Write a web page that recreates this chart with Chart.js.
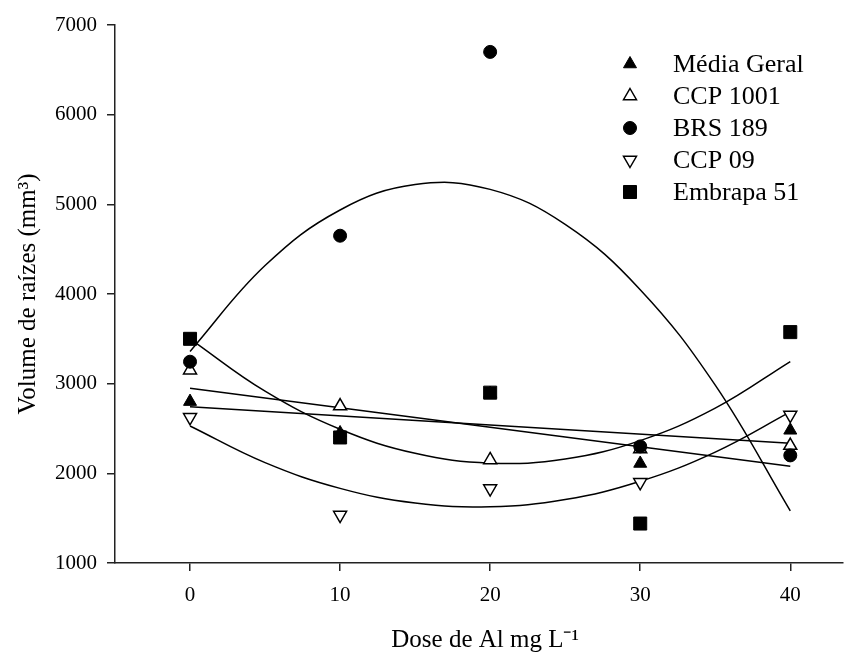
<!DOCTYPE html>
<html>
<head>
<meta charset="utf-8">
<script src="https://cdn.jsdelivr.net/npm/chart.js@4.4.0/dist/chart.umd.min.js"></script>
<style>
  body { margin: 0; background: #fff; }
  canvas { display: block; }
</style>
</head>
<body>
<canvas id="myChart" width="853" height="653"></canvas>
<script>
// Dose de Al (mg L-1)
const doses = [0, 10, 20, 30, 40];

// observed root volume (mm3) per cultivar
const mediaGeral = [2800, 2450, 2890, 2110, 2480];
const ccp1001 = [3150, 2750, 2150, 2270, 2310];
const brs189 = [3245, 4650, 6700, 2300, 2200];
const ccp09 = [2625, 1535, 1830, 1900, 2650];
const embrapa51 = [3500, 2400, 2900, 1440, 3575];

// fitted curves, every 5 mg L-1
const curveX = [0, 5, 10, 15, 20, 25, 30, 35, 40];
const brs189Curve = [3360, 4317, 4937, 5220, 5167, 4776, 4048, 2983, 1581];
const embrapa51Curve = [3500, 2916, 2491, 2223, 2113, 2160, 2365, 2727, 3247];
const ccp09Curve = [2528, 2119, 1832, 1668, 1627, 1707, 1911, 2237, 2685];

// straight fits (ends at 0 and 40)
const lineX = [0, 40];
const ccp1001Line = [2950, 2080];
const mediaGeralLine = [2743, 2335];

// tick labels
const xTicks = [0, 10, 20, 30, 40];
const yTicks = [1000, 2000, 3000, 4000, 5000, 6000, 7000];

function toPoints(xs, ys) {
  return xs.map((x, i) => ({ x: x, y: ys[i] }));
}

function markerSet(label, values, style, rotation, filled, radius, order) {
  return {
    label: label,
    data: toPoints(doses, values),
    pointStyle: style,
    rotation: rotation,
    pointRadius: radius,
    backgroundColor: filled ? "#000" : "#fff",
    borderColor: "#000",
    borderWidth: filled ? 1 : 1.5,
    showLine: false,
    order: order,
  };
}

function fitLine(xs, ys) {
  return {
    label: "fit",
    data: toPoints(xs, ys),
    showLine: true,
    pointRadius: 0,
    borderColor: "#000",
    borderWidth: 1.5,
    tension: 0.4,
    fill: false,
    order: 3,
  };
}

// legend rows (drawn by the plugin below)
const legendItems = [
  { text: "Média Geral", style: "triangle", rotation: 0, filled: true },
  { text: "CCP 1001", style: "triangle", rotation: 0, filled: false },
  { text: "BRS 189", style: "circle", rotation: 0, filled: true },
  { text: "CCP 09", style: "triangle", rotation: 180, filled: false },
  { text: "Embrapa 51", style: "rect", rotation: 0, filled: true },
];

function drawMarker(ctx, item, x, y) {
  ctx.save();
  ctx.fillStyle = item.filled ? "#000" : "#fff";
  ctx.strokeStyle = "#000";
  ctx.lineWidth = item.filled ? 1 : 1.5;
  ctx.beginPath();
  if (item.style === "circle") {
    ctx.arc(x, y, 6.5, 0, Math.PI * 2);
  } else if (item.style === "rect") {
    ctx.rect(x - 6.5, y - 6.5, 13, 13);
  } else {
    const r = 7.5;
    const s = item.rotation === 180 ? -1 : 1;
    ctx.moveTo(x, y - s * r);
    ctx.lineTo(x + 0.866 * r, y + s * 0.5 * r);
    ctx.lineTo(x - 0.866 * r, y + s * 0.5 * r);
    ctx.closePath();
  }
  ctx.fill();
  ctx.stroke();
  ctx.restore();
}

const legendPlugin = {
  id: "sideLegend",
  afterDraw(chart) {
    const ctx = chart.ctx;
    ctx.save();
    ctx.font = "26px 'Liberation Serif'";
    ctx.textBaseline = "middle";
    legendItems.forEach((item, i) => {
      const y = 64 + i * 32;
      drawMarker(ctx, item, 630, y);
      ctx.fillStyle = "#000";
      ctx.fillText(item.text, 673, y + 1);
    });
    ctx.restore();
  },
};

const ctx = document.getElementById("myChart");

const myChart = new Chart(ctx, {
  type: "scatter",
  data: {
    datasets: [
      markerSet("Média Geral", mediaGeral, "triangle", 0, true, 7.5, 2),
      markerSet("CCP 1001", ccp1001, "triangle", 0, false, 7.5, 2),
      markerSet("BRS 189", brs189, "circle", 0, true, 6.5, 1),
      markerSet("CCP 09", ccp09, "triangle", 180, false, 7.5, 2),
      markerSet("Embrapa 51", embrapa51, "rect", 0, true, 9.2, 2),
      fitLine(curveX, brs189Curve),
      fitLine(curveX, embrapa51Curve),
      fitLine(curveX, ccp09Curve),
      fitLine(lineX, ccp1001Line),
      fitLine(lineX, mediaGeralLine),
    ],
  },
  options: {
    responsive: false,
    animation: false,
    layout: { padding: { top: 25, right: 0, bottom: 0, left: 0 } },
    plugins: {
      legend: { display: false },
      tooltip: { enabled: false },
    },
    scales: {
      x: {
        type: "linear",
        min: -5,
        max: 43.5,
        afterBuildTicks: (s) => {
          s.ticks = xTicks.map((v) => ({ value: v }));
        },
        afterFit: (s) => {
          s.height = 90;
        },
        ticks: {
          font: { family: "Liberation Serif", size: 21 },
          color: "#000",
          padding: 12,
          callback: (v) => String(v),
        },
        grid: {
          drawOnChartArea: false,
          tickLength: 8,
          color: "#222",
          lineWidth: 1.5,
        },
        border: { color: "#222", width: 1.5 },
        title: {
          display: true,
          text: "\u2002Dose de Al mg L⁻¹",
          color: "#000",
          font: { family: "Liberation Serif", size: 25, lineHeight: 1 },
          padding: { top: 0, bottom: 0 },
        },
      },
      y: {
        min: 1000,
        max: 7000,
        afterBuildTicks: (s) => {
          s.ticks = yTicks.map((v) => ({ value: v }));
        },
        afterFit: (s) => {
          s.width = 115;
        },
        ticks: {
          font: { family: "Liberation Serif", size: 21 },
          color: "#000",
          padding: 10,
          callback: (v) => String(v),
        },
        grid: {
          drawOnChartArea: false,
          tickLength: 8,
          color: "#222",
          lineWidth: 1.5,
        },
        border: { color: "#222", width: 1.5 },
        title: {
          display: true,
          text: "Volume de raízes (mm³)",
          color: "#000",
          font: { family: "Liberation Serif", size: 25, lineHeight: 1 },
          padding: { top: 16, bottom: 0 },
        },
      },
    },
  },
  plugins: [legendPlugin],
});
</script>
</body>
</html>
